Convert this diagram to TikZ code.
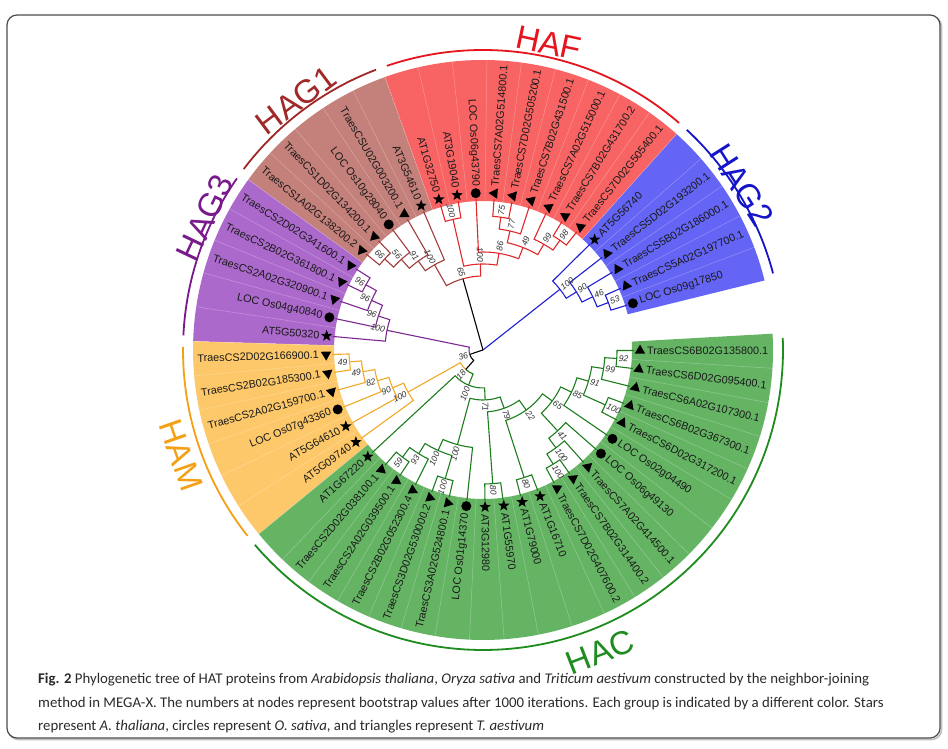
\documentclass[tikz,border=0pt]{standalone}
\usepackage{fontspec}
\setmainfont{Liberation Sans}
\newfontfamily\capfont{Carlito}
\usetikzlibrary{shapes.geometric}
\definecolor{sR}{HTML}{F86363}
\definecolor{sBr}{HTML}{C4807A}
\definecolor{sB}{HTML}{6464F5}
\definecolor{sP}{HTML}{AC69CC}
\definecolor{sO}{HTML}{FDC869}
\definecolor{sG}{HTML}{64B464}
\definecolor{lR}{HTML}{E6141E}
\definecolor{lBr}{HTML}{A02828}
\definecolor{lB}{HTML}{1414C8}
\definecolor{lP}{HTML}{78198C}
\definecolor{lO}{HTML}{F5A014}
\definecolor{lG}{HTML}{1E8C1E}
\definecolor{bR}{HTML}{E0282A}
\definecolor{bBr}{HTML}{A03C3C}
\definecolor{bB}{HTML}{1E1ED2}
\definecolor{bP}{HTML}{7D2891}
\definecolor{bO}{HTML}{F0AA28}
\definecolor{bG}{HTML}{1E7D1E}
\definecolor{capc}{HTML}{2A2A2A}
\definecolor{leafc}{HTML}{1A1A1A}

\newcommand\mkclade[6]{\draw[br,#1] (#3:#4) -- (#3:#2) arc[start angle=#3, end angle=#5, radius=#2] -- (#5:#6);}
\newcommand\mkcladeTwo[8]{%
 \draw[br,#1] (#4:#5) -- (#4:#3) arc[start angle=#4, end angle=#8, radius=#3];
 \draw[br,#2] (#8:#3) arc[start angle=#8, end angle=#6, radius=#3] -- (#6:#7);}
\newcommand\bsv[3]{%
 \pgfmathsetmacro\bsa{#1}%
 \pgfmathtruncatemacro\bsl{(\bsa>90 && \bsa<270) ? 1 : 0}%
 \pgfmathsetmacro\bsr{#2+1.5}%
 \ifnum\bsl=1
  \node[bs, anchor=east, rotate=\bsa-180] at (\bsa:\bsr) {#3};
 \else
  \node[bs, anchor=west, rotate=\bsa] at (\bsa:\bsr) {#3};
 \fi}

\begin{document}
\begin{tikzpicture}[x=1pt, y=1pt,
  br/.style={line width=1.1pt},
  bs/.style={font=\fontsize{8.6}{9}\selectfont\itshape, text=black!80, inner sep=0.4pt},
  leaf/.style={font=\fontsize{10.8}{11}\selectfont, text=leafc, inner sep=0pt},
  grp/.style={font=\fontsize{33}{33}\selectfont, inner sep=0pt},
  captext/.style={font=\capfont\fontsize{14.8}{15}\selectfont, text=capc, inner sep=0pt},
  mks/.style={star, star points=5, star point ratio=2.4, fill=black, draw=none, minimum size=12pt, inner sep=0pt},
  mkc/.style={circle, fill=black, draw=none, minimum size=10pt, inner sep=0pt},
  mkt/.style={regular polygon, regular polygon sides=3, fill=black, draw=none, minimum size=12pt, inner sep=0pt}]
\useasboundingbox (0,0) rectangle (948,749);
\fill[white] (0,0) rectangle (948,749);
% frame
\draw[rounded corners=10pt, line width=1.6pt, black!25] (8.5,9.5) rectangle (941.5,732.5);
\draw[rounded corners=10pt, line width=1.2pt, black!70, fill=white] (7,11) rectangle (940,734);

\begin{scope}[shift={(483,399)}]
\coordinate (root) at (0,0);
% sectors
\foreach \aa/\ab/\cc in {13.875/48.125/sB, 48.125/109.775/sR, 109.775/144.025/sBr, 144.025/178.275/sP, 178.275/219.375/sO, 219.375/363.225/sG}{
  \fill[fill=\cc] (\aa:149) arc[start angle=\aa, end angle=\ab, radius=149] -- (\ab:290) arc[start angle=\ab, end angle=\aa, radius=290] -- cycle;
}
\foreach \i in {0,...,49}{
  \pgfmathsetmacro\sa{17.3+6.85*\i+3.425}
  \draw[white, opacity=0.3, line width=0.5pt] (\sa:149) -- (\sa:290);
}
% group arcs
\foreach \aa/\ab/\cc in {14.8/47.2/lB, 49.2/108.7/lR, 110.9/142.9/lBr, 145.1/177.2/lP, 179.4/218.3/lO, 220.5/362.3/lG}{
  \draw[draw=\cc, line width=1.8pt] (\aa:300) arc[start angle=\aa, end angle=\ab, radius=300];
}
% group labels
\node[grp, text=lR, rotate=-12.1] (gHAF) at (77.9:314) {HAF};
\node[grp, text=lBr, rotate=36.8] (gHAG1) at (126.8:312) {HAG1};
\node[grp, text=lB, rotate=-57.5] (gHAG2) at (32.5:307) {HAG2};
\node[grp, text=lP, rotate=64.6] (gHAG3) at (154.6:308) {HAG3};
\node[grp, text=lO, rotate=-70.8] (gHAM) at (199.2:320) {HAM};
\node[grp, text=lG, rotate=21.2] (gHAC) at (291.2:324) {HAC};

% root branches
\draw[br,black] (root) -- (105.708:74);
\draw[br,bB] (root) -- (38.278:98);
\draw[br,black] (root) -- (198.447:14);
% HAG2
\mkclade{bB}{134}{17.3}{151}{24.15}{151}
\mkclade{bB}{122}{20.725}{134}{31}{151}
\mkclade{bB}{110}{25.8625}{122}{37.85}{151}
\mkclade{bB}{98}{31.856}{110}{44.7}{151}
% HAF
\mkclade{bR}{134}{51.55}{151}{58.4}{151}
\mkclade{bR}{122}{54.975}{134}{65.25}{151}
\mkclade{bR}{134}{78.95}{151}{85.8}{151}
\mkclade{bR}{122}{72.1}{151}{82.375}{134}
\mkclade{bR}{110}{60.1125}{122}{77.2375}{122}
\mkclade{bR}{98}{68.675}{110}{92.65}{151}
\mkclade{bR}{134}{99.5}{151}{106.35}{151}
\mkclade{bR}{86}{80.6625}{98}{102.925}{134}
% HAG1
\mkclade{bBr}{134}{133.75}{151}{140.6}{151}
\mkclade{bBr}{122}{126.9}{151}{137.175}{134}
\mkclade{bBr}{110}{120.05}{151}{132.0375}{122}
\mkclade{bBr}{98}{113.2}{151}{126.044}{110}
\mkcladeTwo{bR}{bBr}{74}{91.794}{86}{119.622}{98}{105.708}
% HAG3
\mkclade{bP}{134}{147.45}{151}{154.3}{151}
\mkclade{bP}{122}{150.875}{134}{161.15}{151}
\mkclade{bP}{110}{156.0125}{122}{168}{151}
\mkclade{bP}{98}{162.006}{110}{174.85}{151}
% HAM
\mkclade{bO}{134}{181.7}{151}{188.55}{151}
\mkclade{bO}{122}{185.125}{134}{195.4}{151}
\mkclade{bO}{110}{190.2625}{122}{202.25}{151}
\mkclade{bO}{98}{196.256}{110}{209.1}{151}
\mkclade{bO}{86}{202.678}{98}{215.95}{151}
% HAC
\mkclade{bG}{134}{229.65}{151}{236.5}{151}
\mkclade{bG}{122}{233.075}{134}{243.35}{151}
\mkclade{bG}{134}{250.2}{151}{257.05}{151}
\mkclade{bG}{110}{238.2125}{122}{253.625}{134}
\mkclade{bG}{98}{245.919}{110}{263.9}{151}
\mkclade{bG}{134}{270.75}{151}{277.6}{151}
\mkclade{bG}{134}{284.45}{151}{291.3}{151}
\mkclade{bG}{134}{298.15}{151}{305}{151}
\mkclade{bG}{122}{301.575}{134}{311.85}{151}
\mkclade{bG}{110}{306.7125}{122}{318.7}{151}
\mkclade{bG}{134}{332.4}{151}{339.25}{151}
\mkclade{bG}{134}{352.95}{151}{359.8}{151}
\mkclade{bG}{122}{346.1}{151}{356.375}{134}
\mkclade{bG}{110}{335.825}{134}{351.2375}{122}
\mkclade{bG}{98}{325.55}{151}{343.531}{110}
\mkclade{bG}{86}{312.706}{110}{334.541}{98}
\mkclade{bG}{74}{287.875}{134}{323.623}{86}
\mkclade{bG}{62}{274.175}{134}{305.749}{74}
\mkclade{bG}{50}{254.909}{98}{289.962}{62}
\mkclade{bG}{38}{222.8}{151}{272.436}{50}
\mkcladeTwo{bO}{bG}{26}{209.314}{86}{247.618}{38}{228.466}
\mkcladeTwo{bP}{black}{14}{168.428}{98}{228.466}{26}{198.447}

% bootstrap values
\bsv{20.725}{134}{53} \bsv{25.8625}{122}{46} \bsv{31.856}{110}{90} \bsv{38.278}{98}{100}
\bsv{54.975}{134}{98} \bsv{60.1125}{122}{99} \bsv{82.375}{134}{75} \bsv{77.2375}{122}{77}
\bsv{68.675}{110}{49} \bsv{80.6625}{98}{86} \bsv{102.925}{134}{100} \bsv{91.794}{86}{100}
\bsv{137.175}{134}{66} \bsv{132.0375}{122}{56} \bsv{126.044}{110}{91} \bsv{119.622}{98}{100}
\bsv{105.708}{74}{65}
\bsv{150.875}{134}{96} \bsv{156.0125}{122}{96} \bsv{162.006}{110}{96} \bsv{168.428}{98}{100}
\bsv{185.125}{134}{49} \bsv{190.2625}{122}{49} \bsv{196.256}{110}{82} \bsv{202.678}{98}{90} \bsv{209.314}{86}{100}
\bsv{233.075}{134}{59} \bsv{238.2125}{122}{93} \bsv{253.625}{134}{100} \bsv{245.919}{110}{100}
\bsv{254.909}{98}{100} \bsv{274.175}{134}{80} \bsv{287.875}{134}{80} \bsv{301.575}{134}{100}
\bsv{306.7125}{122}{100} \bsv{312.706}{110}{41} \bsv{335.825}{134}{100} \bsv{356.375}{134}{92}
\bsv{351.2375}{122}{99} \bsv{343.531}{110}{91} \bsv{334.541}{98}{85} \bsv{323.623}{86}{65}
\bsv{305.749}{74}{22} \bsv{289.962}{62}{79} \bsv{272.436}{50}{71} \bsv{247.618}{38}{100}
\bsv{228.466}{26}{18} \bsv{198.447}{14}{36}

% leaves
\foreach \i/\nm/\ltype in {
0/LOC Os09g17850/c,
1/TraesCS5A02G197700.1/t,
2/TraesCS5B02G186000.1/t,
3/TraesCS5D02G193200.1/t,
4/AT5G56740/s,
5/TraesCS7D02G505400.1/t,
6/TraesCS7B02G431700.2/t,
7/TraesCS7A02G515000.1/t,
8/TraesCS7B02G431500.1/t,
9/TraesCS7D02G505200.1/t,
10/TraesCS7A02G514800.1/t,
11/LOC Os06g43790/c,
12/AT3G19040/s,
13/AT1G32750/s,
14/AT3G54610/s,
15/TraesCSU02G003200.1/t,
16/LOC Os10g28040/c,
17/TraesCS1D02G134200.1/t,
18/TraesCS1A02G138200.2/t,
19/TraesCS2D02G341600.1/t,
20/TraesCS2B02G361800.1/t,
21/TraesCS2A02G320900.1/t,
22/LOC Os04g40840/c,
23/AT5G50320/s,
24/TraesCS2D02G166900.1/t,
25/TraesCS2B02G185300.1/t,
26/TraesCS2A02G159700.1/t,
27/LOC Os07g43360/c,
28/AT5G64610/s,
29/AT5G09740/s,
30/AT1G67220/s,
31/TraesCS2D02G038100.1/t,
32/TraesCS2A02G039500.1/t,
33/TraesCS2B02G052300.4/t,
34/TraesCS3D02G530000.2/t,
35/TraesCS3A02G524800.1/t,
36/LOC Os01g14370/c,
37/AT3G12980/s,
38/AT1G55970/s,
39/AT1G79000/s,
40/AT1G16710/s,
41/TraesCS7D02G407600.2/t,
42/TraesCS7B02G314400.2/t,
43/TraesCS7A02G414500.1/t,
44/LOC Os06g49130/c,
45/LOC Os02g04490/c,
46/TraesCS6D02G317200.1/t,
47/TraesCS6B02G367300.1/t,
48/TraesCS6A02G107300.1/t,
49/TraesCS6D02G095400.1/t,
50/TraesCS6B02G135800.1/t}{
  \pgfmathsetmacro\ang{17.3+6.85*\i}
  \pgfmathtruncatemacro\lft{(\ang>90 && \ang<270) ? 1 : 0}
  \if\ltype s \node[mks] (L\i) at (\ang:157) {};\fi
  \if\ltype c \node[mkc] (L\i) at (\ang:157) {};\fi
  \if\ltype t \node[mkt, rotate=\ang] (L\i) at (\ang:157) {};\fi
  \ifnum\lft=1
    \node[leaf, anchor=east, rotate=\ang-180] (T\i) at (\ang:164) {\nm};
  \else
    \node[leaf, anchor=west, rotate=\ang] (T\i) at (\ang:164) {\nm};
  \fi
}
\end{scope}

% caption
\node[captext, anchor=base west] (c1) at (38,65) {\textbf{Fig. 2} Phylogenetic tree of HAT proteins from \textit{Arabidopsis thaliana}, \textit{Oryza sativa} and \textit{Triticum aestivum} constructed by the neighbor-joining};
\node[captext, anchor=base west] (c2) at (38,41) {method in MEGA-X. The numbers at nodes represent bootstrap values after 1000 iterations. Each group is indicated by a different color. Stars};
\node[captext, anchor=base west] (c3) at (38,18) {represent \textit{A. thaliana}, circles represent \textit{O. sativa}, and triangles represent \textit{T. aestivum}};
\end{tikzpicture}
\end{document}
